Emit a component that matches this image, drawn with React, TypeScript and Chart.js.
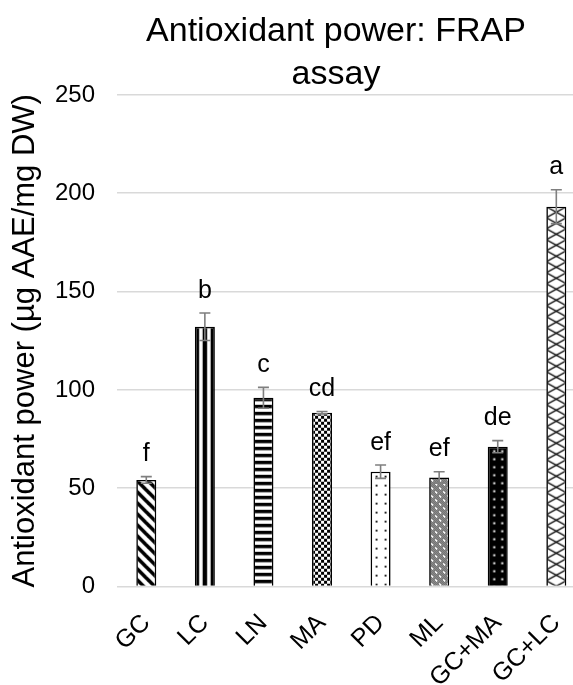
import React, { useEffect, useRef } from "react";
import { Chart, registerables } from "chart.js";

Chart.register(...registerables);

const categories = ["GC", "LC", "LN", "MA", "PD", "ML", "GC+MA", "GC+LC"];
const values = [54.2, 132.1, 96.0, 88.4, 58.4, 55.5, 71.1, 193.2];
const errors = [1.7, 7.0, 5.3, 0.6, 3.4, 2.9, 3.1, 8.6];
const letters = ["f", "b", "c", "cd", "ef", "ef", "de", "a"];
const titleLines = ["Antioxidant power: FRAP", "assay"];
const yTitle = "Antioxidant power (µg AAE/mg DW)";
const patternKinds = ["diag", "vert", "horiz", "checker", "sparseDots", "fineGrey", "blackDots", "lattice"];

const FONT = '"Liberation Sans", Arial, sans-serif';

function makePattern(kind: string): CanvasPattern {
  const c = document.createElement("canvas");
  const g = c.getContext("2d") as CanvasRenderingContext2D;
  const setSize = (w: number, h: number) => {
    c.width = w;
    c.height = h;
    g.fillStyle = "#fff";
    g.fillRect(0, 0, w, h);
  };
  switch (kind) {
    case "diag": {
      const s = 11;
      setSize(s, s);
      g.strokeStyle = "#000";
      g.lineWidth = 3.6;
      for (const k of [-s, 0, s]) {
        g.beginPath();
        g.moveTo(-3, k - 3);
        g.lineTo(s + 3, s + k + 3);
        g.stroke();
      }
      break;
    }
    case "vert": {
      setSize(8, 4);
      g.fillStyle = "#000";
      // stripe centred at x = 2 (and hence 10, 18 in the bar)
      g.fillRect(0, 0, 4.25, 4);
      g.fillRect(7.75, 0, 0.25, 4);
      break;
    }
    case "horiz": {
      setSize(4, 7);
      g.fillStyle = "#000";
      g.fillRect(0, 0, 4, 3.4);
      break;
    }
    case "checker": {
      setSize(6, 6);
      g.fillStyle = "#000";
      g.fillRect(0, 0, 3, 3);
      g.fillRect(3, 3, 3, 3);
      break;
    }
    case "sparseDots": {
      setSize(9, 9);
      g.fillStyle = "#000";
      g.fillRect(5, 4, 1.8, 1.8);
      break;
    }
    case "fineGrey": {
      setSize(8, 8);
      g.fillStyle = "#000";
      for (let yy = 0; yy < 8; yy++) {
        for (let xx = 0; xx < 8; xx++) {
          if ((xx + yy) % 2 === 0) g.fillRect(xx, yy, 1, 1);
        }
      }
      g.fillStyle = "#fff";
      g.fillRect(2, 2, 2, 2);
      g.fillRect(6, 6, 2, 2);
      break;
    }
    case "blackDots": {
      setSize(8, 8);
      g.fillStyle = "#000";
      g.fillRect(0, 0, 8, 8);
      g.fillStyle = "#fff";
      g.fillRect(5.5, 3.5, 2, 2);
      break;
    }
    case "lattice": {
      const w = 20;
      const h = 11;
      setSize(w, h);
      g.strokeStyle = "#000";
      g.lineWidth = 1.3;
      for (const dx of [-w, 0, w]) {
        for (const dy of [-h, 0, h]) {
          g.beginPath();
          g.moveTo(dx, dy);
          g.lineTo(dx + w, dy + h);
          g.moveTo(dx + w, dy);
          g.lineTo(dx, dy + h);
          g.stroke();
        }
      }
      break;
    }
  }
  const ctx = document.createElement("canvas").getContext("2d") as CanvasRenderingContext2D;
  return ctx.createPattern(c, "repeat") as CanvasPattern;
}

export default function App() {
  const ref = useRef<HTMLCanvasElement | null>(null);

  useEffect(() => {
    if (!ref.current) return;
    const patterns = patternKinds.map(makePattern);

    const alignPatterns = {
      id: "alignPatterns",
      beforeDatasetsDraw(chart: any) {
        const meta = chart.getDatasetMeta(0);
        meta.data.forEach((bar: any, i: number) => {
          const left = bar.x - bar.width / 2;
          const top = bar.y;
          patterns[i].setTransform(new DOMMatrix([1, 0, 0, 1, left, top]));
        });
      },
    };

    const annotations = {
      id: "annotations",
      afterDatasetsDraw(chart: any) {
        const ctx = chart.ctx as CanvasRenderingContext2D;
        const meta = chart.getDatasetMeta(0);
        const yScale = chart.scales.y;
        ctx.save();
        meta.data.forEach((bar: any, i: number) => {
          const x = bar.x;
          const yt = yScale.getPixelForValue(values[i] + errors[i]);
          const yb = yScale.getPixelForValue(values[i] - errors[i]);
          ctx.strokeStyle = "#7f7f7f";
          ctx.lineWidth = 1.6;
          ctx.beginPath();
          ctx.moveTo(x, yt);
          ctx.lineTo(x, yb);
          ctx.moveTo(x - 5.5, yt);
          ctx.lineTo(x + 5.5, yt);
          ctx.moveTo(x - 5.5, yb);
          ctx.lineTo(x + 5.5, yb);
          ctx.stroke();
          ctx.fillStyle = "#000";
          ctx.font = `25px ${FONT}`;
          ctx.textAlign = "center";
          ctx.textBaseline = "alphabetic";
          ctx.fillText(letters[i], x, yt - 15.5);
        });
        ctx.fillStyle = "#000";
        ctx.font = `34px ${FONT}`;
        ctx.textAlign = "center";
        ctx.textBaseline = "alphabetic";
        ctx.fillText(titleLines[0], 336, 41);
        ctx.fillText(titleLines[1], 336, 84);
        ctx.restore();
      },
    };

    const chart = new Chart(ref.current, {
      type: "bar",
      data: {
        labels: categories,
        datasets: [
          {
            data: values,
            backgroundColor: patterns as any,
            borderColor: "#000",
            borderWidth: 1.6,
            barPercentage: 0.3415,
            categoryPercentage: 1,
          },
        ],
      },
      options: {
        animation: false,
        responsive: false,
        maintainAspectRatio: false,
        layout: { padding: { top: 95, right: 20.4, left: 0, bottom: 0 } },
        plugins: {
          legend: { display: false },
          title: { display: false },
          tooltip: { enabled: false },
        },
        scales: {
          x: {
            offset: true,
            grid: { display: false },
            border: { display: false },
            ticks: {
              autoSkip: false,
              minRotation: 45,
              maxRotation: 45,
              padding: 14,
              color: "#000",
              font: { family: FONT, size: 25 },
            },
            afterFit: (s: any) => {
              s.height = 720 - 586.5;
            },
          },
          y: {
            min: 0,
            max: 250,
            ticks: {
              stepSize: 50,
              padding: 22,
              color: "#000",
              font: { family: FONT, size: 24 },
            },
            grid: { color: "#d9d9d9", lineWidth: 1.6, drawTicks: false },
            border: { display: false },
            title: {
              display: true,
              text: yTitle,
              color: "#000",
              padding: { top: 7, bottom: 0 },
              font: { family: FONT, size: 31 },
            },
            afterFit: (s: any) => {
              s.width = 117;
            },
          },
        },
      },
      plugins: [alignPatterns, annotations],
    } as any);

    return () => chart.destroy();
  }, []);

  return (
    <div
      style={{
        position: "fixed",
        left: 0,
        top: 0,
        width: 573,
        height: 685,
        overflow: "hidden",
        background: "#fff",
      }}
    >
      <canvas ref={ref} width={606} height={720} style={{ display: "block", width: 606, height: 720 }} />
    </div>
  );
}
